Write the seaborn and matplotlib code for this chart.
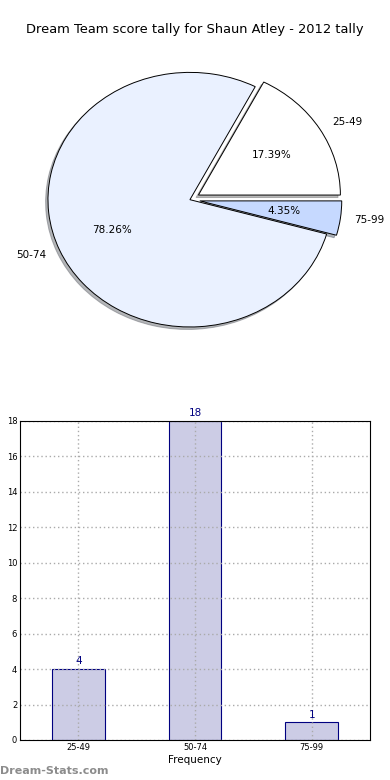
import numpy as np
import pandas as pd
import matplotlib
matplotlib.use('Agg')
import matplotlib.pyplot as plt
import seaborn as sns

# score tally data
intervals = ['25-49', '50-74', '75-99']
counts = [4, 18, 1]
pie_colors = ['#FFFFFF', '#EAF1FF', '#C6D9FF']
explode = [0.07, 0.0, 0.07]
yticks = list(range(0, 19, 2))

sns.set_style('white')
plt.rcParams['font.family'] = ['DejaVu Sans']
plt.rcParams['text.color'] = 'black'
plt.rcParams['xtick.color'] = 'black'
plt.rcParams['ytick.color'] = 'black'
plt.rcParams['axes.labelcolor'] = 'black'

fig = plt.figure(figsize=(3.9, 7.8), dpi=100)

# pie on top
ax1 = fig.add_axes([0.032, 0.540, 0.910, 0.408])
wedges, texts, autotexts = ax1.pie(counts, labels=intervals, colors=pie_colors,
                                   explode=explode, autopct='%.2f%%',
                                   shadow={'ox': -0.012, 'oy': -0.014, 'shade': 0.55},
                                   wedgeprops={'edgecolor': 'black', 'linewidth': 0.7},
                                   textprops={'fontsize': 7.5, 'color': 'black'})
ax1.set_aspect('auto')
ax1.set_xlim(-1.25, 1.25)
ax1.set_ylim(-1.25, 1.25)
fig.text(0.5, 1 - 30 / 780, 'Dream Team score tally for Shaun Atley - 2012 tally',
         ha='center', va='center', fontsize=9.4)

# bar chart below
ax2 = fig.add_axes([0.0513, 0.0513, 0.8974, 0.409])
df = pd.DataFrame({'interval': intervals, 'count': counts})
sns.barplot(data=df, x='interval', y='count', ax=ax2, color='#CCCCE5',
            edgecolor='navy', linewidth=0.8, width=0.45, saturation=1)
ax2.set_xlim(-0.5, 2.5)
ax2.set_ylim(0, 18)
ax2.set_yticks(yticks)
ax2.tick_params(labelsize=6, direction='in', length=3, pad=2)
ax2.set_axisbelow(False)
ax2.grid(True, linestyle=(0, (1, 2)), color='#aaaaaa', linewidth=1.0)
for s in ax2.spines.values():
    s.set_color('black')
    s.set_linewidth(0.8)
    s.set_zorder(5)
for i, c in enumerate(counts):
    ax2.text(i, c + 0.15, str(c), ha='center', va='bottom', color='navy',
             fontsize=7.5, clip_on=False)
ax2.set_xlabel('Frequency', fontsize=7.5, labelpad=2)
ax2.set_ylabel('')
fig.text(-0.004, 0.27, 'Score Intervals', rotation=90, ha='center', va='center',
         fontsize=7)

fig.text(0.0, 0.012, 'Dream-Stats.com', ha='left', va='center', fontsize=8,
         color='#8c8c8c', fontweight='semibold')

fig.savefig('out.png', dpi=100)
